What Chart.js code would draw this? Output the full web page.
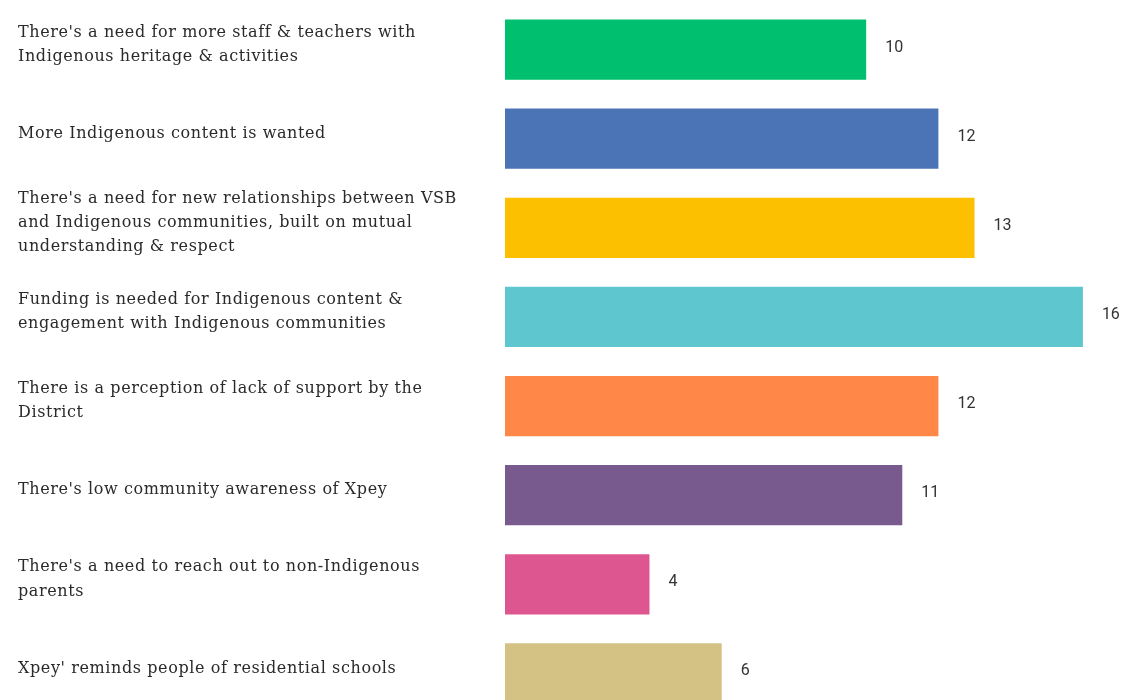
<!DOCTYPE html>
<html>
<head>
<meta charset="utf-8">
<script src="https://cdn.jsdelivr.net/npm/chart.js@4.4.1/dist/chart.umd.min.js"></script>
<style>
  html, body { margin: 0; padding: 0; background: #ffffff; overflow: hidden; }
  #wrap { position: absolute; left: 0; top: 0; width: 1123px; height: 718px; }
</style>
</head>
<body>
<div id="wrap"><canvas id="c" width="1123" height="718"></canvas></div>
<script>
const categories = [
  ["There's a need for more staff & teachers with", "Indigenous heritage & activities"],
  ["More Indigenous content is wanted"],
  ["There's a need for new relationships between VSB", "and Indigenous communities, built on mutual", "understanding & respect"],
  ["Funding is needed for Indigenous content &", "engagement with Indigenous communities"],
  ["There is a perception of lack of support by the", "District"],
  ["There's low community awareness of Xpey"],
  ["There's a need to reach out to non-Indigenous", "parents"],
  ["Xpey' reminds people of residential schools"]
];
const values = [10, 12, 13, 16, 12, 11, 4, 6];
const barColors = ["#00BF6F", "#4B74B7", "#FDC000", "#5EC6CE", "#FF8748", "#785A8F", "#DE5690", "#D3C283"];

const spacing = {
  id: 'spacing',
  beforeDraw(chart) {
    chart.ctx.letterSpacing = '0.6px';
  }
};

const valueLabels = {
  id: 'valueLabels',
  afterDatasetsDraw(chart) {
    const ctx = chart.ctx;
    const meta = chart.getDatasetMeta(0);
    ctx.save();
    ctx.letterSpacing = '0px';
    ctx.font = '16px Roboto, "Liberation Sans", sans-serif';
    ctx.fillStyle = '#333333';
    ctx.textAlign = 'left';
    ctx.textBaseline = 'middle';
    meta.data.forEach((bar, i) => {
      ctx.fillText(String(values[i]), bar.x + 19, bar.y - 2);
    });
    ctx.restore();
  }
};

new Chart(document.getElementById('c'), {
  type: 'bar',
  data: {
    labels: categories,
    datasets: [{
      data: values,
      backgroundColor: barColors,
      borderWidth: 0,
      categoryPercentage: 1.0,
      barPercentage: 0.675
    }]
  },
  options: {
    indexAxis: 'y',
    responsive: false,
    animation: false,
    layout: { padding: { left: 18, right: 4, top: 5, bottom: 0 } },
    plugins: { legend: { display: false }, tooltip: { enabled: false } },
    scales: {
      x: {
        display: false,
        min: 0,
        max: 17
      },
      y: {
        grid: { display: false, drawTicks: false },
        border: { display: false },
        afterFit(scale) {
          scale.width = 487;
          scale.paddingTop = 0;
          scale.paddingBottom = 0;
        },
        ticks: {
          crossAlign: 'far',
          padding: 0,
          labelOffset: -5,
          color: '#2a2a2a',
          autoSkip: false,
          font: { family: '"DejaVu Serif", serif', size: 16, lineHeight: 1.52 }
        }
      }
    }
  },
  plugins: [spacing, valueLabels]
});
</script>
</body>
</html>
